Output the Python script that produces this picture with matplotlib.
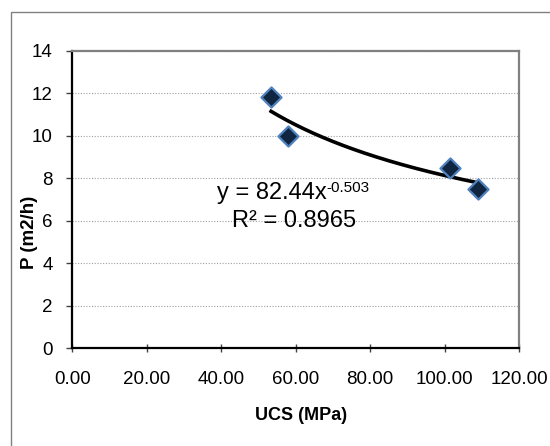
import numpy as np
import matplotlib
matplotlib.use('Agg')
import matplotlib.pyplot as plt
from matplotlib.patches import Rectangle

plt.rcParams['font.family'] = ['Liberation Sans', 'DejaVu Sans']

# data
ucs = [53.4, 57.9, 101.5, 109.1]
p_rate = [11.8, 10.0, 8.5, 7.5]

# power trendline shown on the chart
coef_a = 82.44
coef_b = -0.503
r_squared = 0.8965

x_ticks = [0, 20, 40, 60, 80, 100, 120]
y_ticks = [0, 2, 4, 6, 8, 10, 12, 14]

W, H = 550, 446
fig = plt.figure(figsize=(W / 100, H / 100), dpi=100)
ax = fig.add_axes([72.3 / W, 1 - 348.3 / H, 446.7 / W, 297.6 / H])

# outer chart-area frame
fig.patches.append(Rectangle((11.3 / W, -0.1), 1.2, 1 - 12.3 / H + 0.1,
                             transform=fig.transFigure, fill=False,
                             edgecolor='#808080', linewidth=1.0))

for y in y_ticks[1:]:
    ax.axhline(y, color='#a0a0a0', linestyle=(0, (1, 1.5)), linewidth=0.8, zorder=1)

xs = np.linspace(min(ucs), max(ucs), 200)
ax.plot(xs, coef_a * xs ** coef_b, color='black', linewidth=2.6, zorder=3)

ax.scatter(ucs, p_rate, marker='D', s=105, facecolor='#10253f',
           edgecolor='#4f81bd', linewidth=1.6, zorder=4)

ax.set_xlim(0, 120)
ax.set_ylim(0, 14)
ax.set_xticks(x_ticks)
ax.set_xticklabels([f'{v:.2f}' for v in x_ticks])
ax.set_yticks(y_ticks)

for s in ['top', 'right']:
    ax.spines[s].set_color('#808080')
    ax.spines[s].set_linewidth(1.6)
for s in ['left', 'bottom']:
    ax.spines[s].set_color('black')
    ax.spines[s].set_linewidth(1.6)

ax.tick_params(axis='y', direction='out', length=4, width=1, color='#444444',
               labelsize=13.5, pad=10)
ax.tick_params(axis='x', direction='inout', length=6, width=1, color='#444444',
               labelsize=13.5, pad=13)

ax.set_xlabel('UCS (MPa)', fontsize=13, fontweight='bold', va='top')
ax.set_ylabel('P (m2/h)', fontsize=13.5, fontweight='bold')
ax.xaxis.set_label_coords(0.512, -0.197)
ax.yaxis.set_label_coords(-0.0775, 0.391)

# trendline label, placed in pixel positions of the figure
eq = fig.text(216.7 / W, 1 - 199.3 / H, 'y = 82.44x', fontsize=17,
              ha='left', va='baseline')
ax.annotate(f'{coef_b}', xy=(1, H - 191.7), xycoords=(eq, 'figure pixels'),
            fontsize=11, ha='left', va='baseline')
fig.text(232.3 / W, 1 - 227.3 / H, f'R² = {r_squared}', fontsize=17,
         ha='left', va='baseline')

fig.savefig('out.png', dpi=100)
